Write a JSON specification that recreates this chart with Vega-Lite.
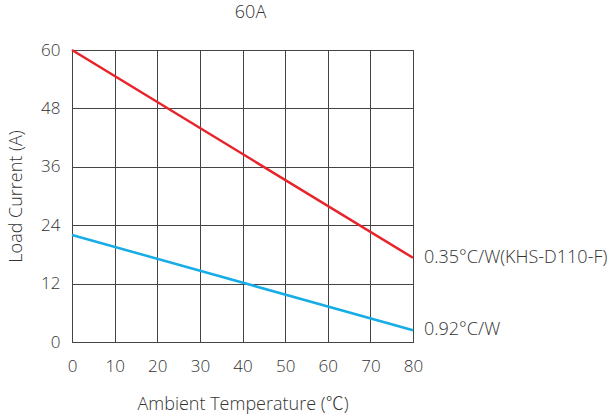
{
  "$schema": "https://vega.github.io/schema/vega-lite/v6.json",
  "autosize": {"type": "none"},
  "padding": {"left": 72, "top": 50, "right": 203, "bottom": 78},
  "width": 341,
  "height": 292,
  "title": {"text": "60A", "anchor": "middle", "offset": 19, "dx": 8, "fontSize": 18, "font": "Open Sans", "fontWeight": 300, "color": "#333333"},
  "config": {
    "view": {"stroke": "#222222", "strokeWidth": 1},
    "axis": {"labelFont": "Open Sans", "titleFont": "Open Sans, Noto Sans CJK SC", "labelFontSize": 17, "titleFontSize": 18, "labelFontWeight": 300, "titleFontWeight": 300, "labelColor": "#333333", "titleColor": "#333333", "grid": true, "gridColor": "#444444", "gridOpacity": 1, "gridWidth": 1, "ticks": false, "domain": false, "labelFlush": false}
  },
  "data": {"values": [
    {"t": 0, "i": 60, "s": "0.35°C/W(KHS-D110-F)"},
    {"t": 80, "i": 17.3, "s": "0.35°C/W(KHS-D110-F)"},
    {"t": 0, "i": 22, "s": "0.92°C/W"},
    {"t": 80, "i": 2.4, "s": "0.92°C/W"}
  ]},
  "encoding": {
    "x": {"field": "t", "type": "quantitative", "scale": {"domain": [0, 80], "nice": false}, "axis": {"values": [0,10,20,30,40,50,60,70,80], "title": "Ambient Temperature (℃)", "labelPadding": 16, "titlePadding": 21}},
    "y": {"field": "i", "type": "quantitative", "scale": {"domain": [0, 60], "nice": false}, "axis": {"values": [0,12,24,36,48,60], "title": "Load Current (A)", "labelPadding": 12, "titlePadding": 15}}
  },
  "layer": [
    {"mark": {"type": "line", "strokeWidth": 2.5}, "encoding": {"color": {"field": "s", "type": "nominal", "scale": {"domain": ["0.35°C/W(KHS-D110-F)", "0.92°C/W"], "range": ["#e8232a", "#16ace6"]}, "legend": null}}},
    {"transform": [{"filter": "datum.t == 80"}], "mark": {"type": "text", "align": "left", "dx": 11, "fontSize": 18, "font": "Open Sans", "fontWeight": 300, "color": "#333333"}, "encoding": {"text": {"field": "s"}}}
  ]
}
